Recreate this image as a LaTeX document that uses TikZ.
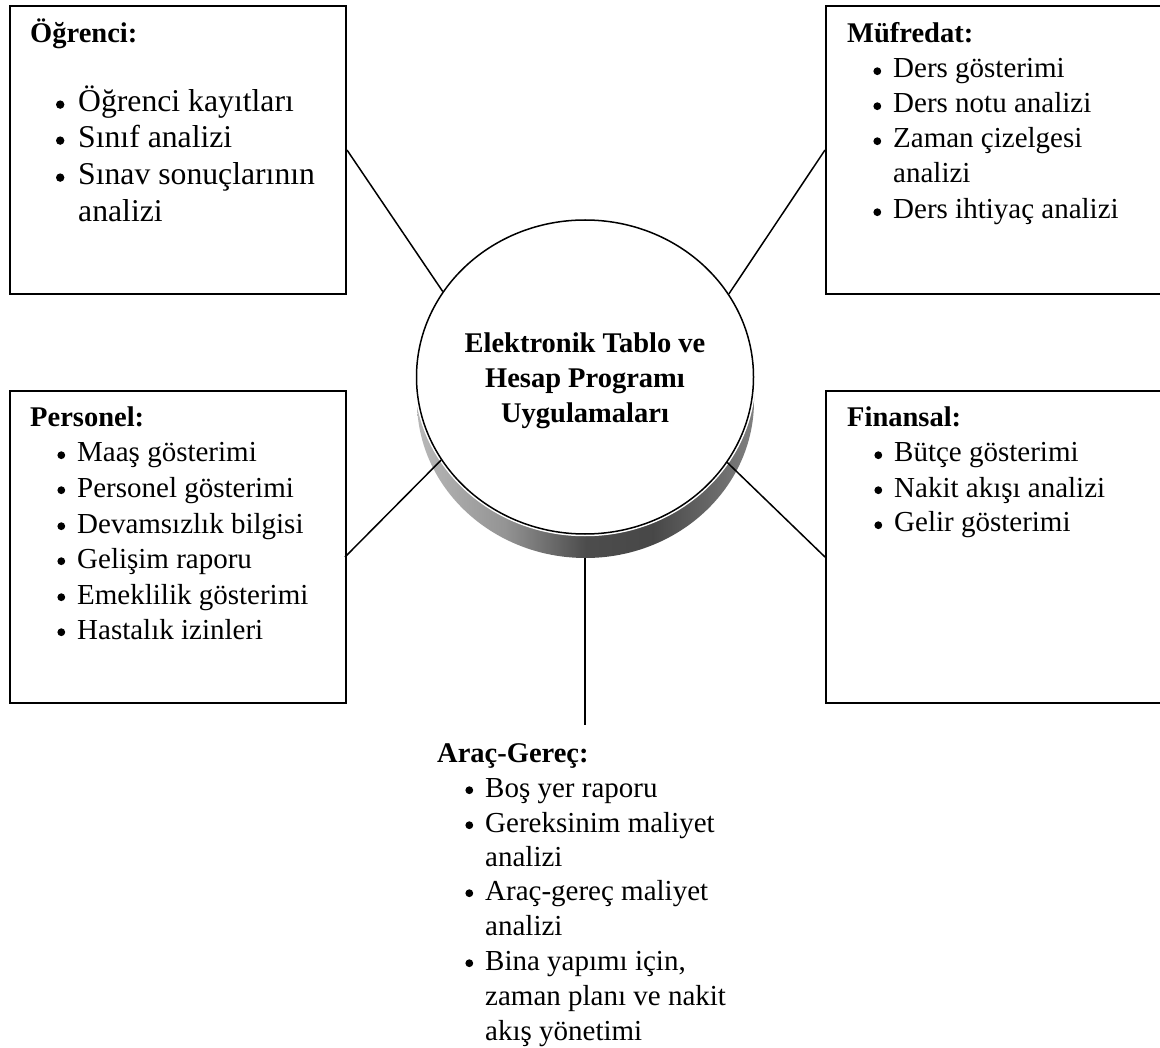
\documentclass[tikz,border=0pt]{standalone}
\usepackage{fontspec}
\setmainfont{Liberation Serif}
\usetikzlibrary{shapes.geometric}
\pgfdeclarehorizontalshading{cylside}{100bp}{color(0bp)=(black!28); color(25bp)=(black!28);
  color(38bp)=(black!42); color(50bp)=(black!70); color(60bp)=(black!72);
  color(75bp)=(black!50); color(100bp)=(black!50)}
\newcommand\bul{\llap{\tikz[baseline={(0pt,-6.8pt)}]\fill (0pt,0pt) circle (3.9pt);\hspace{12pt}}}
\newcommand\bulb{\llap{\tikz[baseline={(0pt,-7.4pt)}]\fill (0pt,0pt) circle (4.2pt);\hspace{13.8pt}}}
\tikzset{
  box/.style={draw, line width=2pt, anchor=north west, inner sep=0},
  conn/.style={line width=1.5pt},
  ttl/.style={font=\fontsize{28.5}{35}\selectfont\bfseries, anchor=base west, inner sep=0},
  itm/.style={font=\fontsize{29}{35}\selectfont, anchor=base west, inner sep=0},
  bigitm/.style={font=\fontsize{31.7}{37}\selectfont, anchor=base west, inner sep=0},
}
\begin{document}
\begin{tikzpicture}[x=1pt,y=-1pt]
\useasboundingbox (0,0) rectangle (1160,1048);
\fill[white] (0,0) rectangle (1160,1048);

% boxes
\node[box, minimum width=336pt, minimum height=288pt] (ogr) at (9,5) {};
\node[box, minimum width=337pt, minimum height=288pt] (muf) at (825,5) {};
\node[box, minimum width=336pt, minimum height=312pt] (per) at (9,390) {};
\node[box, minimum width=337pt, minimum height=312pt] (fin) at (825,390) {};

% cylinder side
\shade[shading=cylside]
  (754,401) arc[start angle=0, end angle=180, x radius=168.5, y radius=157]
  -- (417,377) arc[start angle=180, end angle=0, x radius=168.5, y radius=157] -- cycle;
\draw[white, line width=4.5pt] (585,377) ellipse[x radius=168.5, y radius=157];
\node[ellipse, draw, line width=1.5pt, fill=white, inner sep=0,
      minimum width=337pt, minimum height=314pt] (cyl) at (585,377) {};
\coordinate (cylbot) at (585,558);
\node[font=\fontsize{28.5}{35}\selectfont\bfseries, align=center, inner sep=0] (ctext) at (585,381)
  {Elektronik Tablo ve\\Hesap Programı\\Uygulamaları};

% connectors
\coordinate (perc) at (345,557);
\coordinate (finc) at (825,557);
\coordinate (aracc) at (585,725);
\draw[conn] (ogr.east) -- (cyl.149.6);
\draw[conn] (muf.west) -- (cyl.30.4);
\draw[conn] (perc) -- (cyl.210.7);
\draw[conn] (finc) -- (cyl.329.3);
\draw[conn] (cylbot) -- (aracc);

% Öğrenci
\node[ttl] (ogrt) at (30,43) {Öğrenci:};
\node[bigitm] (ogr1) at (78,112) {\bulb Öğrenci kayıtları};
\node[bigitm] (ogr2) at (78,148) {\bulb Sınıf analizi};
\node[bigitm] (ogr3) at (78,185) {\bulb Sınav sonuçlarının};
\node[bigitm] (ogr4) at (78,222) {analizi};

% Müfredat
\node[ttl] (muft) at (847,43) {Müfredat:};
\node[itm] (muf1) at (893,78) {\bul Ders gösterimi};
\node[itm] (muf2) at (893,113) {\bul Ders notu analizi};
\node[itm] (muf3) at (893,148) {\bul Zaman çizelgesi};
\node[itm] (muf4) at (893,183) {analizi};
\node[itm] (muf5) at (893,219) {\bul Ders ihtiyaç analizi};

% Personel
\node[ttl] (pert) at (30,427) {Personel:};
\node[itm] (per1) at (77,462) {\bul Maaş gösterimi};
\node[itm] (per2) at (77,497) {\bul Personel gösterimi};
\node[itm] (per3) at (77,533) {\bul Devamsızlık bilgisi};
\node[itm] (per4) at (77,568) {\bul Gelişim raporu};
\node[itm] (per5) at (77,604) {\bul Emeklilik gösterimi};
\node[itm] (per6) at (77,639) {\bul Hastalık izinleri};

% Finansal
\node[ttl] (fint) at (847,427) {Finansal:};
\node[itm] (fin1) at (894,462) {\bul Bütçe gösterimi};
\node[itm] (fin2) at (894,497) {\bul Nakit akışı analizi};
\node[itm] (fin3) at (894,532) {\bul Gelir gösterimi};

% Araç-Gereç
\node[ttl] (arat) at (437,762) {Araç-Gereç:};
\node[itm] (ara1) at (485,797) {\bul Boş yer raporu};
\node[itm] (ara2) at (485,832) {\bul Gereksinim maliyet};
\node[itm] (ara3) at (485,866) {analizi};
\node[itm] (ara4) at (485,900) {\bul Araç-gereç maliyet};
\node[itm] (ara5) at (485,935) {analizi};
\node[itm] (ara6) at (485,970) {\bul Bina yapımı için,};
\node[itm] (ara7) at (485,1005) {zaman planı ve nakit};
\node[itm] (ara8) at (485,1040) {akış yönetimi};
\end{tikzpicture}
\end{document}
